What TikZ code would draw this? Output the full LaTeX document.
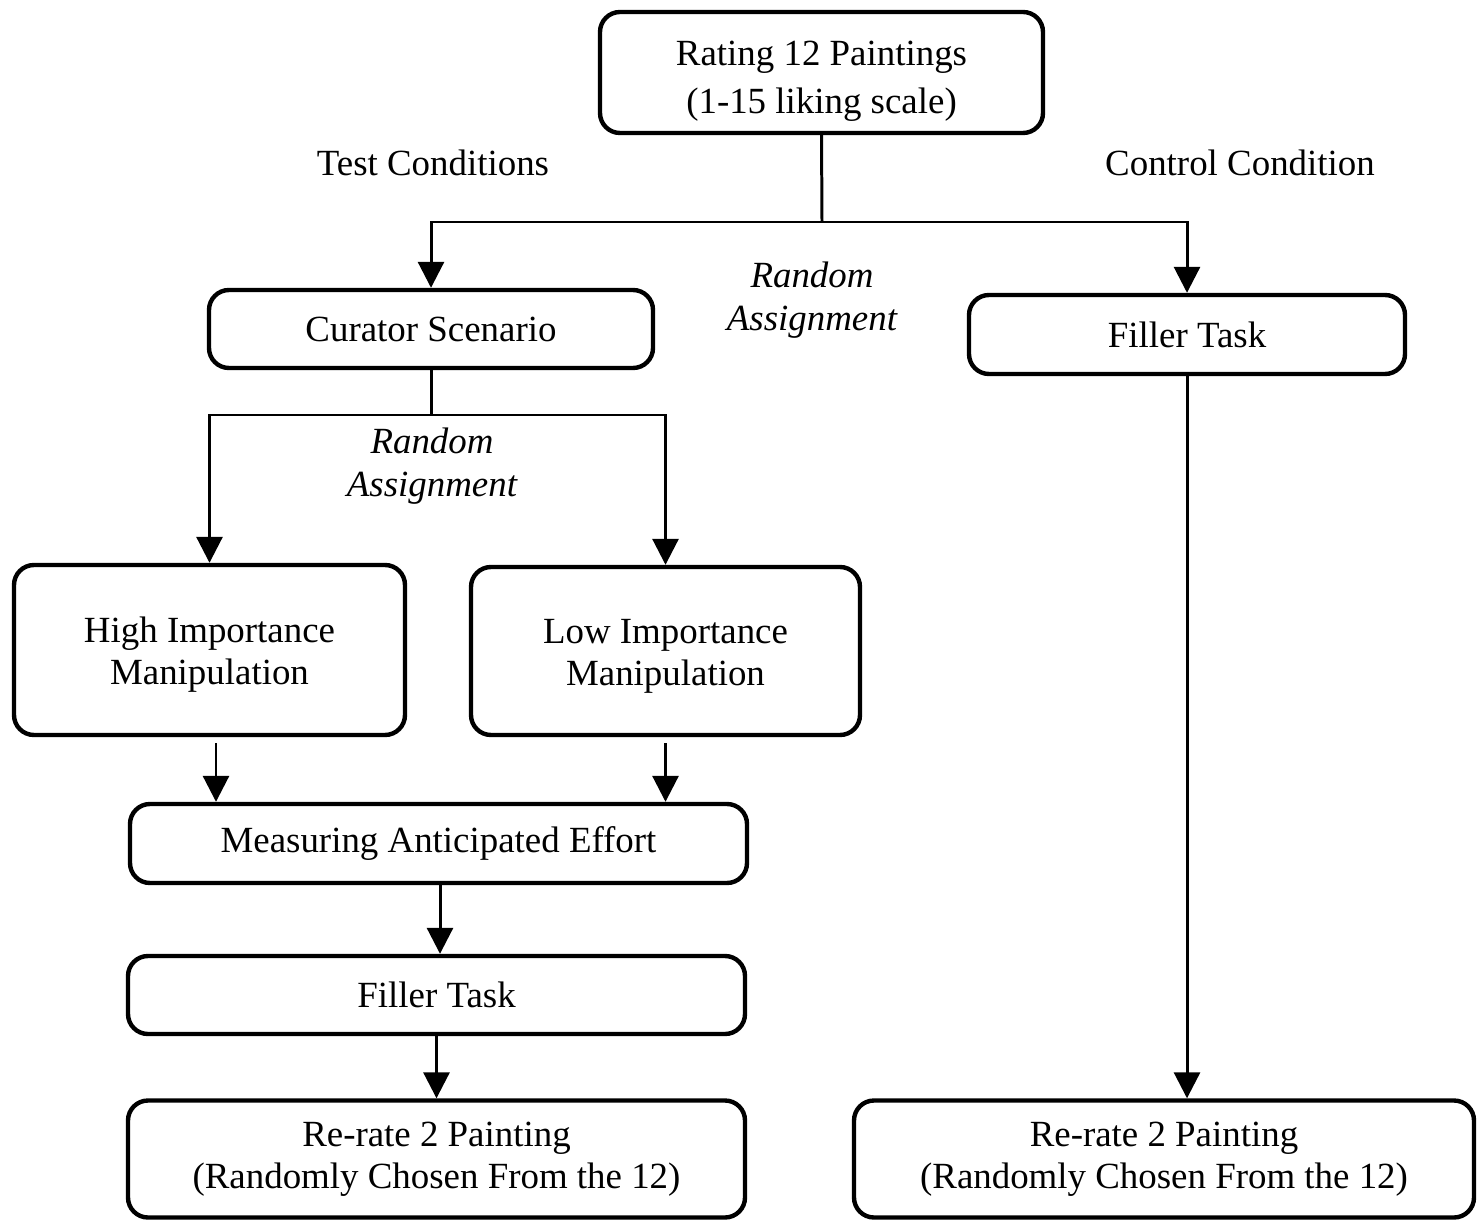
\documentclass[tikz,border=0pt]{standalone}
\usepackage{fontspec}
\setmainfont{Liberation Serif}
\usetikzlibrary{arrows.meta,calc}
\begin{document}
\begin{tikzpicture}[x=0.02cm,y=-0.02cm,
  box/.style={draw=black,line width=2.5pt,rounded corners=0.4cm,align=center,inner sep=0pt,font=\fontsize{21}{23.8}\selectfont},
  lbl/.style={align=center,inner sep=0pt,font=\fontsize{21}{27.5}\selectfont},
  ital/.style={align=center,inner sep=0pt,font=\fontsize{21}{24.4}\selectfont\itshape},
  conn/.style={line width=1.7pt},
  arr/.style={line width=1.7pt,-{Triangle[width=0.52cm,length=0.52cm]}}]
\useasboundingbox (0,0) rectangle (1483,1222);
\node[box,font=\fontsize{21}{27.2}\selectfont,text height=51.5pt,minimum width=443*0.02cm,minimum height=121*0.02cm] (top) at (821.5,72.5) {Rating 12 Paintings\\(1-15 liking scale)};
\node[box,minimum width=444*0.02cm,minimum height=78*0.02cm] (cur) at (431,329) {Curator Scenario};
\node[box,minimum width=436*0.02cm,minimum height=79*0.02cm] (fillR) at (1187,334.5) {Filler Task};
\node[box,text height=43.3pt,minimum width=391*0.02cm,minimum height=170*0.02cm] (high) at (209.5,650) {High Importance\\Manipulation};
\node[box,text height=43.3pt,minimum width=389*0.02cm,minimum height=168*0.02cm] (low) at (665.5,651) {Low Importance\\Manipulation};
\node[box,minimum width=617*0.02cm,minimum height=79*0.02cm] (meas) at (438.5,843.5) {Measuring Anticipated Effort};
\node[box,minimum width=617*0.02cm,minimum height=78*0.02cm] (fillL) at (436.5,995) {Filler Task};
\node[box,minimum width=617*0.02cm,minimum height=117*0.02cm] (rerL) at (436.5,1159) {Re-rate 2 Painting\\(Randomly Chosen From the 12)};
\node[box,minimum width=620*0.02cm,minimum height=117*0.02cm] (rerR) at (1164,1159) {Re-rate 2 Painting\\(Randomly Chosen From the 12)};
\node[lbl] (test) at (433,163) {Test Conditions};
\node[lbl] (ctrl) at (1240,163) {Control Condition};
\node[ital] (ra1) at (812,300) {Random\\Assignment};
\node[ital] (ra2) at (432,466) {Random\\Assignment};
\coordinate (j1) at (822,222);
\coordinate (j2) at (431,415);
\draw[conn] (top.south) -- (j1);
\draw[arr] (j1) -| (cur.north);
\draw[arr] (j1) -| (fillR.north);
\draw[conn] (cur.south) -- (j2);
\draw[arr] (j2) -| (high.north);
\draw[arr] (j2) -| (low.north);
\draw[arr] ([xshift=0.13cm,yshift=-0.12cm]high.south) -- ([xshift=0.13cm]high.south |- meas.north);
\draw[arr] ([yshift=-0.12cm]low.south) -- (low.south |- meas.north);
\draw[arr] ([xshift=0.03cm]meas.south) -- ([xshift=0.03cm]meas.south |- fillL.north);
\draw[arr] (fillL.south) -- (fillL.south |- rerL.north);
\draw[arr] (fillR.south) -- (fillR.south |- rerR.north);
\end{tikzpicture}
\end{document}
